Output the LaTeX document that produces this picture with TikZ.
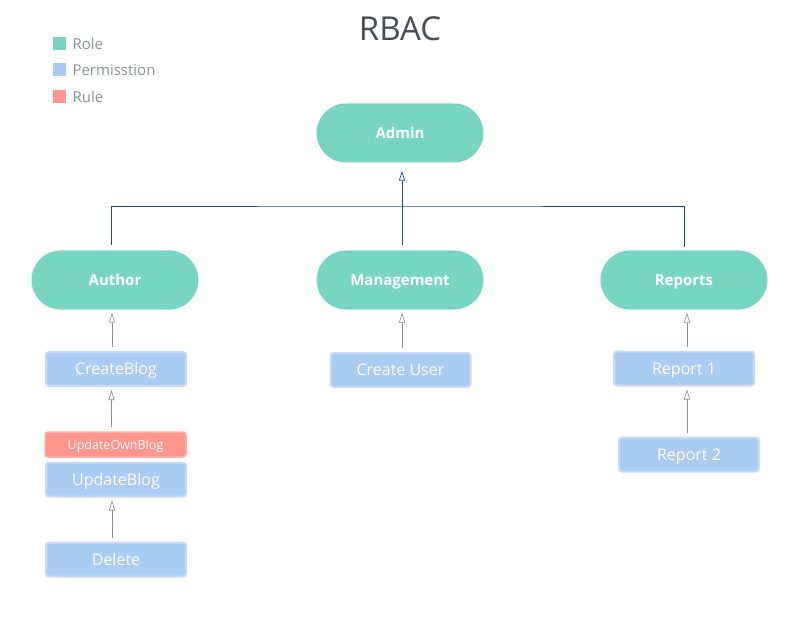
\documentclass[tikz,border=0pt]{standalone}
\usepackage{fontspec}
\setmainfont{Open Sans}
\usetikzlibrary{arrows.meta}
\definecolor{rolecol}{HTML}{78D5C1}
\definecolor{permcol}{HTML}{AACBF2}
\definecolor{permline}{HTML}{C8DCF7}
\definecolor{rulecol}{HTML}{FF958B}
\definecolor{ruleline}{HTML}{FFB0A8}
\definecolor{treecol}{HTML}{2B4C70}
\definecolor{legendcol}{HTML}{8E9296}
\definecolor{titlecol}{HTML}{4A4F55}
\tikzset{
  role/.style={fill=rolecol, rounded corners=29.5pt, minimum width=167pt, minimum height=59pt,
    text=white, text height=11pt, text depth=0pt, font=\fontsize{15}{18}\selectfont\bfseries},
  perm/.style={fill=permcol, draw=permline, line width=2pt, rounded corners=3pt,
    minimum width=140pt, minimum height=34pt, text=white, text height=11.5pt, text depth=0pt,
    font=\fontsize{16}{19}\selectfont},
  rulebox/.style={fill=rulecol, draw=ruleline, line width=1.5pt, rounded corners=3pt,
    minimum width=141pt, minimum height=25pt, text=white, text height=9pt, text depth=0pt,
    font=\fontsize{12.5}{15}\selectfont},
  link/.style={draw=gray!90, line width=0.6pt, -{Triangle[open, length=10pt, width=6pt]}},
  tree/.style={draw=treecol, line width=0.7pt}
}
\begin{document}
\begin{tikzpicture}[x=1pt, y=-1pt]
  \useasboundingbox[fill=white] (0,0) rectangle (800,620);
  % title and legend
  \node[text=titlecol, font=\fontsize{33}{38}\selectfont] (title) at (400,29) {RBAC};
  \foreach \y/\col/\txt in {44/rolecol/Role, 70/permcol/Permisstion, 97/rulecol/Rule}
    {
    \fill[\col] (53,\y-6.5) rectangle (66,\y+6.5);
    \node[anchor=west, text=legendcol, font=\fontsize{15}{18}\selectfont] at (69,\y) {\txt};
    }
  % roles
  \node[role] (admin) at (400,133) {Admin};
  \node[role] (author) at (115,280) {Author};
  \node[role] (mgmt) at (400,280) {Management};
  \node[role] (reports) at (684,280) {Reports};
  % permissions and rule
  \node[perm] (cblog) at (116,369) {CreateBlog};
  \node[rulebox] (ownblog) at (115.5,444.5) {UpdateOwnBlog};
  \node[perm] (ublog) at (116,479.5) {UpdateBlog};
  \node[perm] (del) at (116,559.5) {Delete};
  \node[perm] (cuser) at (400.5,370) {Create User};
  \node[perm] (rep1) at (684,368.5) {Report 1};
  \node[perm] (rep2) at (689,454.5) {Report 2};
  % role tree
  \coordinate (hub) at (402,206);
  \draw[tree] ([xshift=-4pt, yshift=5pt]author.north) |- (hub) -| ([yshift=3pt]reports.north);
  \draw[tree, -{Triangle[open, length=10pt, width=6pt]}] ([xshift=2pt, yshift=5pt]mgmt.north) -- ([xshift=2pt, yshift=-8pt]admin.south);
  % permission links
  \foreach \from/\to/\dx in {cblog/author/-4, ownblog/cblog/-4, del/ublog/-4, cuser/mgmt/1.5, rep1/reports/3, rep2/rep1/-2}
    \draw[link] ([xshift=\dx pt, yshift=4pt]\from.north) -- ([xshift=\dx pt, yshift=-3pt]\from.north |- \to.south);
\end{tikzpicture}
\end{document}
